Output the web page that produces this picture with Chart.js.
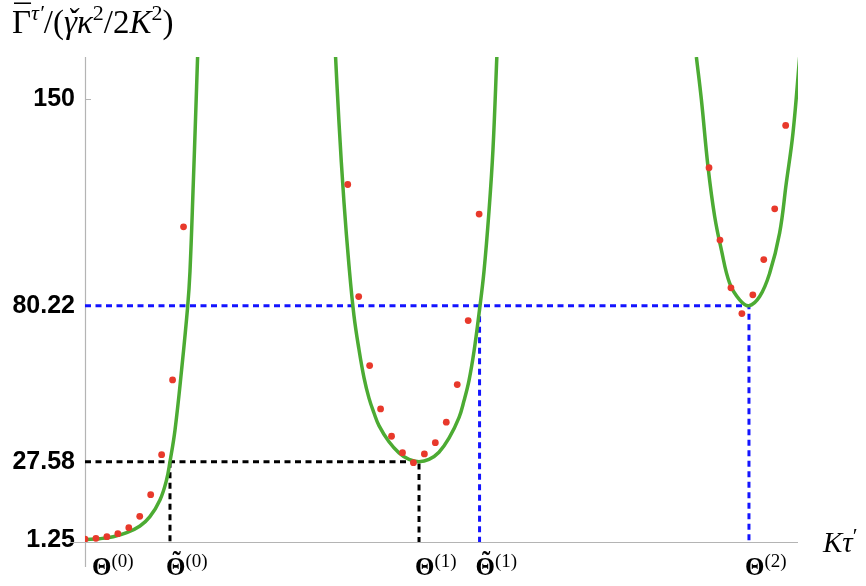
<!DOCTYPE html>
<html><head><meta charset="utf-8">
<script src="https://cdn.jsdelivr.net/npm/chart.js@4.4.1/dist/chart.umd.min.js"></script>
<style>html,body{margin:0;padding:0;background:#fff}#wrap{width:866px;height:586px;position:relative}</style>
</head><body><div id="wrap"><canvas id="c"></canvas></div>
<script>
// ---- axis ticks ----
const xTickValues = [0, 0.813, 3.195, 3.774, 6.351];
const xTickBase = ['Θ', 'Θ', 'Θ', 'Θ', 'Θ'];
const xTickSup = ['(0)', '(0)', '(1)', '(1)', '(2)'];
const xTickTilde = [false, true, false, true, false];
const yTickValues = [1.25, 27.58, 80.22, 150];
const yTickLabels = ['1.25', '27.58', '80.22', '150'];

// ---- red sample points ----
const dots0X = [0, 0.1047, 0.2094, 0.3142, 0.4189, 0.5236, 0.6283, 0.7330, 0.8378, 0.9425];
const dots0Y = [1.4, 1.7, 2.24, 3.26, 5.28, 9.13, 16.43, 29.94, 55.18, 106.87];
const dots1X = [2.5133, 2.6180, 2.7227, 2.8274, 2.9322, 3.0369, 3.1416, 3.2463, 3.3510, 3.4558, 3.5605, 3.6652, 3.7699];
const dots1Y = [121.16, 83.32, 60.01, 45.38, 36.16, 30.62, 27.24, 30.18, 34.0, 40.89, 53.59, 75.22, 111.16];
const dots2X = [5.9690, 6.0737, 6.1784, 6.2832, 6.3879, 6.4926, 6.5973, 6.7021];
const dots2Y = [126.8, 102.38, 86.26, 77.58, 83.9, 95.82, 112.95, 141.1];

// ---- green curve ----
const curve0X = [0, 0.143, 0.270, 0.399, 0.526, 0.621, 0.717, 0.780, 0.813, 0.861, 0.924, 0.982, 1.004, 1.036, 1.058, 1.077];
const curve0Y = [1.25, 1.57, 2.24, 3.59, 5.86, 9.0, 14.64, 21.4, 27.58, 38.29, 58.56, 79.94, 91.7, 121.63, 144.13, 164.2];
const curve1X = [2.3912, 2.4294, 2.4773, 2.5251, 2.5729, 2.6208, 2.6686, 2.7164, 2.7642, 2.8120, 2.9077, 3.0033, 3.0990, 3.1946,
                 3.2903, 3.3859, 3.4816, 3.5772, 3.6251, 3.6729, 3.7207, 3.7685, 3.8163, 3.8642, 3.9024, 3.9407];
const curve1Y = [168.1, 142.11, 115.08, 93.8, 76.84, 65.42, 55.96, 49.03, 44.0, 39.74, 34.27, 30.55, 28.32, 27.58,
                 28.32, 30.76, 35.49, 42.44, 48.12, 54.94, 64.74, 77.45, 91.77, 112.04, 132.99, 165.42];
const curve2X = [5.848, 5.896, 5.959, 6.023, 6.087, 6.166, 6.262, 6.351, 6.453, 6.549, 6.644, 6.708, 6.772, 6.836];
const curve2Y = [164.2, 149.78, 127.24, 110.35, 99.1, 87.85, 82.21, 80.22, 83.32, 91.23, 104.74, 121.63, 138.53, 164.2];

const X_MIN = 0, X_MAX = 6.82, Y_MIN = 0.45, Y_MAX = 164.2;

const pts = (xs, ys) => xs.map((x, i) => ({x, y: ys[i]}));
const dots = pts(dots0X.concat(dots1X, dots2X), dots0Y.concat(dots1Y, dots2Y));

const [T0, Tt0, T1, Tt1, T2] = xTickValues;
const [, L1, L2] = yTickValues;

const GREEN = '#4cab33', RED = '#e8392b', BLUE = '#1414ff';
function curveDs(data) {
  return {type: 'scatter', data, showLine: true, borderColor: GREEN, borderWidth: 3.5,
          pointRadius: 0, tension: 0.4, order: 1};
}
function guideDs(data, color) {
  return {type: 'scatter', data, showLine: true, borderColor: color, borderWidth: 3,
          borderDash: [6, 4.5], pointRadius: 0, tension: 0, order: 2};
}

const datasets = [
  {type: 'scatter', data: dots, pointRadius: 3.4, pointBackgroundColor: RED, pointBorderWidth: 0, order: 0},
  curveDs(pts(curve0X, curve0Y)),
  curveDs(pts(curve1X, curve1Y)),
  curveDs(pts(curve2X, curve2Y)),
  guideDs([{x: T0, y: L1}, {x: T1, y: L1}, {x: T1, y: Y_MIN}], '#000'),
  guideDs([{x: Tt0, y: L1}, {x: Tt0, y: Y_MIN}], '#000'),
  guideDs([{x: T0, y: L2}, {x: T2, y: L2}, {x: T2, y: Y_MIN}], BLUE),
  guideDs([{x: Tt1, y: L2}, {x: Tt1, y: Y_MIN}], BLUE)
];

const SERIF = '"Liberation Serif", "DejaVu Serif", serif';

// draws a run of text pieces: [text, font, raise, accent, accentRaise]
function drawRun(ctx, x, base, parts) {
  for (const [t, font, dy, acc, accDy] of parts) {
    ctx.font = font;
    ctx.textAlign = 'left';
    ctx.fillText(t, x, base - dy);
    const w = ctx.measureText(t).width;
    if (acc) {
      ctx.textAlign = 'center';
      ctx.fillText(acc, x + w / 2 + (acc === 'ˇ' ? 2 : 1), base - dy - accDy);
    }
    x += w;
  }
  ctx.textAlign = 'left';
}

const decor = {
  id: 'decor',
  beforeDatasetsDraw(chart) {
    const {ctx, chartArea: a, scales: {y}} = chart;
    ctx.save();
    ctx.strokeStyle = '#b4b4b4';
    ctx.lineWidth = 1.2;
    ctx.beginPath();
    ctx.moveTo(a.left + 0.5, a.top);
    ctx.lineTo(a.left + 0.5, 567);
    ctx.moveTo(70, a.bottom + 0.5);
    ctx.lineTo(a.right, a.bottom + 0.5);
    const p = Math.round(y.getPixelForValue(yTickValues[3])) + 0.5;
    ctx.moveTo(a.left, p);
    ctx.lineTo(a.left + 6, p);
    ctx.stroke();
    ctx.restore();
  },
  afterDraw(chart) {
    const {ctx, chartArea: a, scales: {x}} = chart;
    ctx.save();
    ctx.fillStyle = '#000';
    ctx.textBaseline = 'alphabetic';
    // y-axis title
    drawRun(ctx, 12, 33, [
      ['Γ', '33px ' + SERIF, 0, '¯', 5],
      ['τ\u2032', 'italic 22px ' + SERIF, 13],
      ['/(', '33px ' + SERIF, 0],
      ['γ', 'italic 33px ' + SERIF, 0, 'ˇ', 1],
      ['κ', 'italic 33px ' + SERIF, 0],
      ['2', '22px ' + SERIF, 13],
      ['/2', '33px ' + SERIF, 0],
      ['K', 'italic 33px ' + SERIF, 0],
      ['2', '22px ' + SERIF, 13],
      [')', '33px ' + SERIF, 0]
    ]);
    // x-axis title
    drawRun(ctx, 823, 552, [
      ['K', 'italic 29px ' + SERIF, 0],
      ['τ', 'italic 29px ' + SERIF, 0],
      ['\u2032', '22px ' + SERIF, 9]
    ]);
    // x tick labels
    xTickValues.forEach((v, i) => {
      const px = x.getPixelForValue(v);
      const lx = Math.max(px - 4, a.left + 7);
      drawRun(ctx, lx, 575, [
        [xTickBase[i], 'bold 25px ' + SERIF, 0, xTickTilde[i] ? '˜' : null, 6],
        [xTickSup[i], '19px ' + SERIF, 8]
      ]);
    });
    ctx.restore();
  }
};

new Chart(document.getElementById('c'), {
  type: 'scatter',
  data: {datasets},
  options: {
    responsive: true,
    maintainAspectRatio: false,
    animation: false,
    layout: {padding: {left: 0, right: 68, top: 57, bottom: 0}},
    plugins: {legend: {display: false}, tooltip: {enabled: false}},
    scales: {
      x: {
        type: 'linear', min: X_MIN, max: X_MAX,
        border: {display: false},
        grid: {display: false, drawTicks: false},
        afterBuildTicks: s => { s.ticks = xTickValues.map(v => ({value: v})); },
        afterFit: s => { s.height = 44; },
        ticks: {display: false}
      },
      y: {
        type: 'linear', min: Y_MIN, max: Y_MAX,
        border: {display: false},
        grid: {display: false, drawTicks: false},
        afterBuildTicks: s => { s.ticks = yTickValues.map(v => ({value: v})); },
        afterFit: s => { s.width = 85; },
        ticks: {
          autoSkip: false, padding: 10, color: '#000',
          font: {family: 'Liberation Sans', size: 25, weight: 'bold'},
          callback: (v, i) => yTickLabels[i]
        }
      }
    }
  },
  plugins: [decor]
});
</script>
</body></html>
